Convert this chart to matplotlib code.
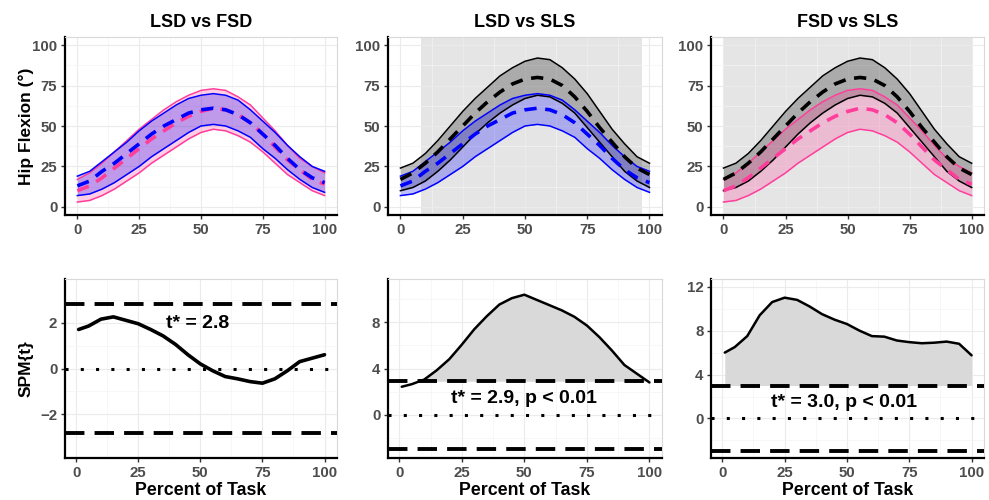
import matplotlib.pyplot as plt
from matplotlib.ticker import MultipleLocator

plt.rcParams['font.family'] = ['Liberation Sans', 'DejaVu Sans']
plt.rcParams['font.weight'] = 'bold'

# hip flexion curves (mean and +/- 1 SD), percent of task
pct = [0, 5, 10, 15, 20, 25, 30, 35, 40, 45, 50, 55, 60, 65, 70, 75, 80, 85, 90, 95, 100]
lsd_mean = [13, 16, 22, 27, 33, 39, 45, 50, 54, 58, 60, 61, 60, 57, 52, 45, 38, 30, 23, 18, 15]
lsd_hi = [19, 22, 28, 34, 40, 47, 53, 58, 63, 67, 69, 70, 69, 66, 60, 53, 46, 38, 31, 25, 22]
lsd_lo = [7, 8, 11, 15, 20, 25, 31, 36, 41, 46, 50, 51, 50, 47, 43, 36, 30, 23, 17, 12, 9]
fsd_mean = [10, 13, 18, 24, 30, 36, 42, 47, 52, 56, 59, 61, 60, 57, 52, 45, 37, 29, 23, 17, 14]
fsd_hi = [17, 21, 27, 34, 41, 48, 54, 60, 65, 69, 72, 73, 72, 68, 63, 55, 47, 38, 30, 25, 21]
fsd_lo = [3, 4, 7, 11, 16, 21, 27, 32, 37, 42, 46, 48, 47, 44, 40, 34, 27, 20, 15, 10, 7]
sls_mean = [17, 21, 27, 34, 42, 50, 58, 65, 71, 76, 79, 80, 79, 75, 68, 59, 49, 40, 31, 24, 20]
sls_hi = [24, 27, 33, 41, 50, 59, 67, 74, 81, 86, 90, 92, 91, 86, 79, 70, 59, 48, 39, 31, 27]
sls_lo = [10, 12, 16, 22, 29, 37, 45, 52, 58, 63, 67, 69, 68, 64, 58, 49, 40, 31, 22, 16, 12]

# SPM{t} curves
spm_x = [1, 5, 10, 15, 20, 25, 30, 35, 40, 45, 50, 55, 60, 65, 70, 75, 80, 85, 90, 95, 100]
spm_lsd_fsd = [1.7, 1.85, 2.15, 2.25, 2.1, 1.95, 1.7, 1.42, 1.05, 0.6, 0.2, -0.1, -0.35,
               -0.45, -0.57, -0.64, -0.45, -0.1, 0.3, 0.45, 0.6]
spm_lsd_sls = [2.43, 2.65, 3.05, 3.85, 4.8, 6.05, 7.38, 8.5, 9.5, 10.05, 10.35, 9.9, 9.45,
               9.0, 8.45, 7.7, 6.7, 5.55, 4.3, 3.55, 2.8]
spm_fsd_sls = [6.0, 6.5, 7.5, 9.4, 10.6, 11.0, 10.8, 10.2, 9.5, 9.0, 8.6, 8.0, 7.5, 7.45,
               7.1, 6.95, 6.85, 6.9, 7.0, 6.8, 5.75]

titles = ['LSD vs FSD', 'LSD vs SLS', 'FSD vs SLS']
tstar = [2.8, 2.9, 3.0]
notes = ['t* = 2.8', 't* = 2.9, p < 0.01', 't* = 3.0, p < 0.01']
sig_spans = [None, (8.4, 96.8), (0, 100)]
spm_ylims = [(-3.9, 3.9), (-3.7, 11.7), (-3.6, 12.7)]
spm_ticks = [2, 4, 4]

BLUE = '#0000FF'
PINK = '#FF3E9B'
BLACK = '#000000'

fig = plt.figure(figsize=(9.89, 5), dpi=100)
lefts = [0.0657, 0.3923, 0.719]
widths = [0.275, 0.277, 0.276]
top_axes = [fig.add_axes([l, 0.57, w, 0.356]) for l, w in zip(lefts, widths)]
bot_axes = [fig.add_axes([l, 0.084, w, 0.358]) for l, w in zip(lefts, widths)]


def style(ax):
    ax.set_facecolor('white')
    for s in ['top', 'right']:
        ax.spines[s].set_color('#D9D9D9')
        ax.spines[s].set_linewidth(0.8)
    for s in ['left', 'bottom']:
        ax.spines[s].set_color('black')
        ax.spines[s].set_linewidth(1.6)
    ax.set_axisbelow(True)
    ax.grid(which='major', color='#EBEBEB', lw=0.8)
    ax.grid(which='minor', color='#F4F4F4', lw=0.5)
    ax.tick_params(which='major', length=3, width=1, color='#333333',
                   labelcolor='#4D4D4D', labelsize=10.8, pad=2.5)
    ax.tick_params(which='minor', length=0)
    ax.xaxis.set_major_locator(MultipleLocator(25))
    ax.xaxis.set_minor_locator(MultipleLocator(12.5))


def band(ax, mean, lo, hi, col):
    ax.fill_between(pct, lo, hi, color=col, alpha=0.25, lw=0, zorder=2)
    ax.plot(pct, lo, color=col, lw=1.1, zorder=3, solid_joinstyle='round')
    ax.plot(pct, hi, color=col, lw=1.1, zorder=3, solid_joinstyle='round')
    ax.plot(pct, mean, color=col, lw=2.6, dashes=(3.4, 2.4), zorder=4)


pairs = [
    [(fsd_mean, fsd_lo, fsd_hi, PINK), (lsd_mean, lsd_lo, lsd_hi, BLUE)],
    [(sls_mean, sls_lo, sls_hi, BLACK), (lsd_mean, lsd_lo, lsd_hi, BLUE)],
    [(sls_mean, sls_lo, sls_hi, BLACK), (fsd_mean, fsd_lo, fsd_hi, PINK)],
]

for i, ax in enumerate(top_axes):
    style(ax)
    if sig_spans[i]:
        ax.axvspan(*sig_spans[i], color='#E5E5E5', lw=0, zorder=0.3)
    for mean, lo, hi, col in pairs[i]:
        band(ax, mean, lo, hi, col)
    ax.set_xlim(-5, 105)
    ax.set_ylim(-5, 105)
    ax.yaxis.set_major_locator(MultipleLocator(25))
    ax.yaxis.set_minor_locator(MultipleLocator(12.5))
    ax.set_title(titles[i], fontsize=13, fontweight='bold', pad=7)

top_axes[0].set_ylabel('Hip Flexion (°)', fontsize=12.5, fontweight='bold')
top_axes[0].yaxis.set_label_coords(-0.114, 0.5)

spms = [spm_lsd_fsd, spm_lsd_sls, spm_fsd_sls]
for i, ax in enumerate(bot_axes):
    style(ax)
    y = spms[i]
    t = tstar[i]
    if i > 0:
        ax.fill_between(spm_x, t, y, where=[v > t for v in y], interpolate=True,
                        color='#D9D9D9', lw=0, zorder=1.5)
    ax.axhline(t, color='black', lw=2.8, dashes=(5, 2.6), zorder=3)
    ax.axhline(-t, color='black', lw=2.8, dashes=(5, 2.6), zorder=3)
    ax.axhline(0, color='black', lw=2.2, dashes=(1, 4), zorder=3)
    ax.plot(spm_x, y, color='black', lw=2.6 if i == 0 else 1.8, zorder=4,
            solid_capstyle='round', solid_joinstyle='round')
    ax.set_xlim(-4.5, 105)
    ax.set_ylim(*spm_ylims[i])
    ax.yaxis.set_major_locator(MultipleLocator(spm_ticks[i]))
    ax.yaxis.set_minor_locator(MultipleLocator(spm_ticks[i] / 2))
    ax.set_xlabel('Percent of Task', fontsize=12.8, fontweight='bold')
    ax.xaxis.set_label_coords(0.5, -0.135)

bot_axes[0].text(49, 1.96, notes[0], ha='center', va='center', fontsize=14,
                 fontweight='bold', zorder=5)
bot_axes[1].text(49.7, 1.43, notes[1], ha='center', va='center', fontsize=14,
                 fontweight='bold', zorder=5)
bot_axes[2].text(49, 1.48, notes[2], ha='center', va='center', fontsize=14,
                 fontweight='bold', zorder=5)

bot_axes[0].set_ylabel('SPM{t}', fontsize=12.5, fontweight='bold')
bot_axes[0].yaxis.set_label_coords(-0.114, 0.5)

fig.savefig('out.png', dpi=100)
